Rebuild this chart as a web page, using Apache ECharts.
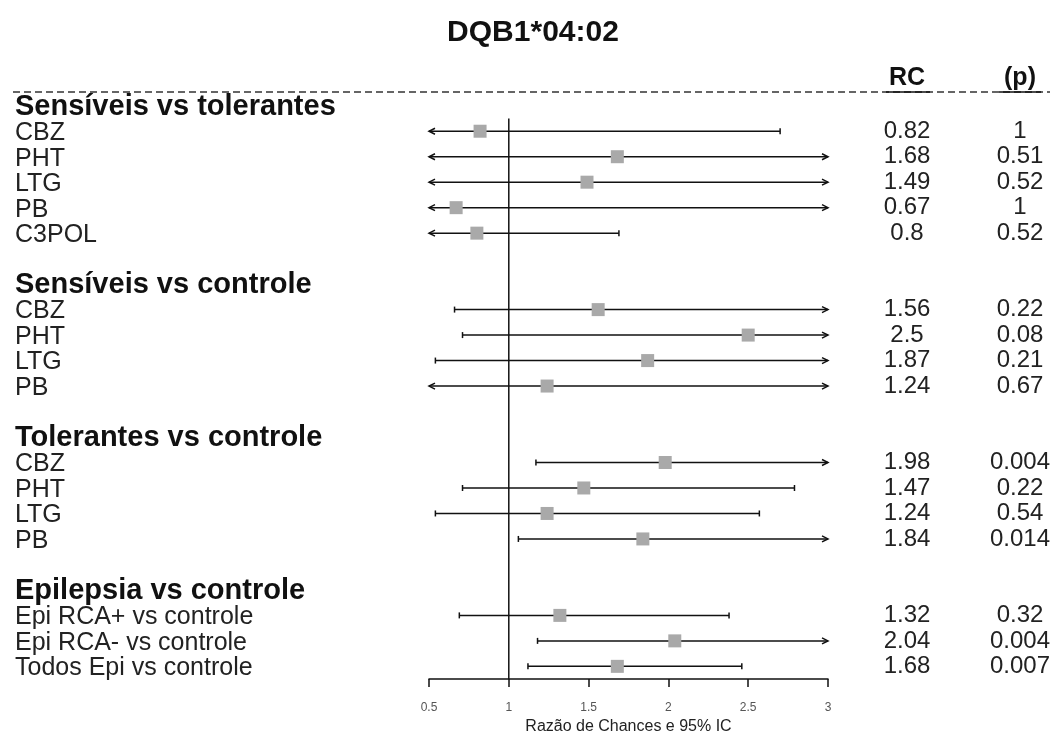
<!DOCTYPE html>
<html>
<head>
<meta charset="utf-8">
<title>DQB1*04:02</title>
<script src="https://cdn.jsdelivr.net/npm/echarts@6/dist/echarts.min.js"></script>
<style>
  html, body { margin: 0; padding: 0; background: #ffffff; }
  #chart { width: 1056px; height: 740px; }
</style>
</head>
<body>
<div id="chart"></div>
<script>
// Forest plot: odds ratios (RC) with 95% confidence intervals for DQB1*04:02.
const chartTitle = 'DQB1*04:02';
const axisTitle = 'Razão de Chances e 95% IC';
const xTicks = [0.5, 1, 1.5, 2, 2.5, 3];

const groupTitles = [
  'Sensíveis vs tolerantes',
  'Sensíveis vs controle',
  'Tolerantes vs controle',
  'Epilepsia vs controle'
];
const groupItems = [
  ['CBZ', 'PHT', 'LTG', 'PB', 'C3POL'],
  ['CBZ', 'PHT', 'LTG', 'PB'],
  ['CBZ', 'PHT', 'LTG', 'PB'],
  ['Epi RCA+ vs controle', 'Epi RCA- vs controle', 'Todos Epi vs controle']
];
const oddsRatio = [
  [0.82, 1.68, 1.49, 0.67, 0.8],
  [1.56, 2.5, 1.87, 1.24],
  [1.98, 1.47, 1.24, 1.84],
  [1.32, 2.04, 1.68]
];
// null = the interval runs past the plotted range (drawn with an arrow)
const ciLower = [
  [null, null, null, null, null],
  [0.66, 0.71, 0.54, null],
  [1.17, 0.71, 0.54, 1.06],
  [0.69, 1.18, 1.12]
];
const ciUpper = [
  [2.70, null, null, null, 1.69],
  [null, null, null, null],
  [null, 2.79, 2.57, null],
  [2.38, null, 2.46]
];
const pValues = [
  ['1', '0.51', '0.52', '1', '0.52'],
  ['0.22', '0.08', '0.21', '0.67'],
  ['0.004', '0.22', '0.54', '0.014'],
  ['0.32', '0.004', '0.007']
];

const X_MIN = 0.5, X_MAX = 3;
const FONT = '"Liberation Sans", Arial, Helvetica, sans-serif';

// Flatten groups into table rows (group header, items, blank spacer)
const rows = [];
groupTitles.forEach(function (g, gi) {
  if (gi > 0) rows.push({ kind: 'blank' });
  rows.push({ kind: 'header', text: g });
  groupItems[gi].forEach(function (name, i) {
    rows.push({
      kind: 'item', text: name,
      or: oddsRatio[gi][i], lo: ciLower[gi][i], hi: ciUpper[gi][i],
      p: pValues[gi][i]
    });
  });
});
const rowKeys = rows.map(function (r, i) { return 'row' + i; });

const estimateData = [];
rows.forEach(function (r, i) {
  if (r.kind === 'item') estimateData.push({ value: [r.or, i] });
});

function renderEstimate(params, api) {
  const r = rows[api.value(1)];
  const y = api.coord([X_MIN, api.value(1)])[1];
  const loClipped = r.lo === null || r.lo < X_MIN;
  const hiClipped = r.hi === null || r.hi > X_MAX;
  const x0 = api.coord([loClipped ? X_MIN : r.lo, 0])[0];
  const x1 = api.coord([hiClipped ? X_MAX : r.hi, 0])[0];
  const xc = api.coord([r.or, 0])[0];
  const ls = { stroke: '#111', lineWidth: 1.5, fill: null };
  const children = [
    { type: 'line', shape: { x1: x0, y1: y, x2: x1, y2: y }, style: ls }
  ];
  const aL = 6, aH = 3, cap = 3;
  if (loClipped) {
    children.push({ type: 'polyline', shape: { points: [[x0 + aL, y - aH], [x0, y], [x0 + aL, y + aH]] }, style: ls });
  } else {
    children.push({ type: 'line', shape: { x1: x0, y1: y - cap, x2: x0, y2: y + cap }, style: ls });
  }
  if (hiClipped) {
    children.push({ type: 'polyline', shape: { points: [[x1 - aL, y - aH], [x1, y], [x1 - aL, y + aH]] }, style: ls });
  } else {
    children.push({ type: 'line', shape: { x1: x1, y1: y - cap, x2: x1, y2: y + cap }, style: ls });
  }
  const s = 13;
  children.push({ type: 'rect', shape: { x: xc - s / 2, y: y - s / 2, width: s, height: s }, style: { fill: '#a9a9a9' } });
  return { type: 'group', children: children };
}

// Vertical line of no effect (RC = 1)
function renderReference(params, api) {
  const band = api.size([0, 1])[1];
  const top = api.coord([1, 0]);
  const bottom = api.coord([1, rows.length - 1]);
  return {
    type: 'line',
    shape: { x1: top[0], y1: top[1] + band / 2, x2: bottom[0], y2: bottom[1] + band / 2 },
    style: { stroke: '#111', lineWidth: 1.5 }
  };
}

const hiddenAxis = {
  axisLine: { show: false }, axisTick: { show: false }, splitLine: { show: false }
};

const option = {
  backgroundColor: '#ffffff',
  animation: false,
  textStyle: { fontFamily: FONT },
  grid: { left: 429, right: 228, top: 93, bottom: 50, containLabel: false },
  xAxis: {
    type: 'value', min: X_MIN, max: X_MAX, interval: 0.5,
    axisLine: { show: true, lineStyle: { color: '#111', width: 1.5 } },
    axisTick: { show: true, length: 8, lineStyle: { color: '#111', width: 1.5 } },
    splitLine: { show: false },
    axisLabel: {
      fontSize: 12, color: '#555', margin: 23, fontFamily: FONT,
      formatter: function (v) { return xTicks.indexOf(v) >= 0 ? String(v) : ''; }
    },
    name: axisTitle, nameLocation: 'middle', nameGap: 35,
    nameTextStyle: { fontSize: 16, color: '#222', fontFamily: FONT }
  },
  yAxis: [
    Object.assign({
      type: 'category', data: rowKeys, inverse: true, position: 'left',
      axisLabel: {
        interval: 0, align: 'left', margin: 414,
        formatter: function (v, i) {
          const r = rows[i];
          if (r.kind === 'header') return '{h|' + r.text + '}';
          if (r.kind === 'item') return '{t|' + r.text + '}';
          return '';
        },
        rich: {
          h: { fontSize: 29, fontWeight: 'bold', color: '#111', fontFamily: FONT, padding: [2, 0, 0, 0] },
          t: { fontSize: 25, color: '#222', fontFamily: FONT, padding: [4, 0, 0, 0] }
        }
      }
    }, hiddenAxis),
    Object.assign({
      type: 'category', data: rowKeys, inverse: true, position: 'right',
      axisLabel: {
        interval: 0, align: 'center', margin: 79,
        fontSize: 24, color: '#222', fontFamily: FONT, padding: [4, 0, 0, 0],
        formatter: function (v, i) { return rows[i].kind === 'item' ? String(rows[i].or) : ''; }
      }
    }, hiddenAxis),
    Object.assign({
      type: 'category', data: rowKeys, inverse: true, position: 'right',
      axisLabel: {
        interval: 0, align: 'center', margin: 192,
        fontSize: 24, color: '#222', fontFamily: FONT, padding: [4, 0, 0, 0],
        formatter: function (v, i) { return rows[i].kind === 'item' ? rows[i].p : ''; }
      }
    }, hiddenAxis)
  ],
  series: [
    {
      type: 'custom', name: 'ref', yAxisIndex: 0,
      data: [[1, 0]], renderItem: renderReference, silent: true, clip: false
    },
    {
      type: 'custom', name: 'RC', yAxisIndex: 0,
      data: estimateData, renderItem: renderEstimate, clip: false,
      encode: { x: 0, y: 1 }
    }
  ],
  graphic: [
    {
      type: 'text', x: 533, y: 33,
      style: { text: chartTitle, font: 'bold 30px ' + FONT, fill: '#111', align: 'center', verticalAlign: 'middle' }
    },
    {
      type: 'line', shape: { x1: 13, y1: 92, x2: 1050, y2: 92 },
      style: { stroke: '#333', lineWidth: 1.5, lineDash: [7, 4] }
    },
    {
      type: 'text', x: 907, y: 91,
      style: { text: 'RC', font: 'bold 25px ' + FONT, fill: '#111', align: 'center', verticalAlign: 'bottom' }
    },
    {
      type: 'text', x: 1020, y: 91,
      style: { text: '(p)', font: 'bold 25px ' + FONT, fill: '#111', align: 'center', verticalAlign: 'bottom' }
    },
    {
      type: 'line', shape: { x1: 886, y1: 92, x2: 930, y2: 92 },
      style: { stroke: '#111', lineWidth: 1.5 }
    },
    {
      type: 'line', shape: { x1: 999, y1: 92, x2: 1041, y2: 92 },
      style: { stroke: '#111', lineWidth: 1.5 }
    }
  ]
};

const chart = echarts.init(document.getElementById('chart'), null, { renderer: 'canvas' });
chart.setOption(option);
</script>
</body>
</html>
